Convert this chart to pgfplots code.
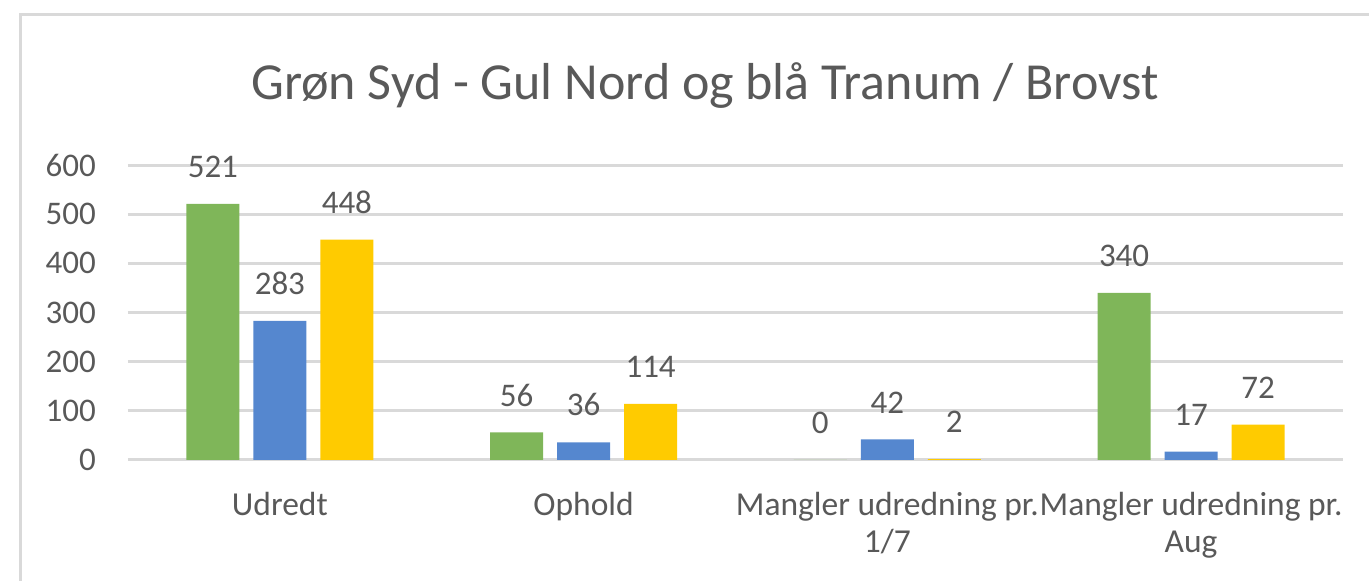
\documentclass[border=0pt]{standalone}
\usepackage{fontspec}
\setmainfont{Carlito}
\usepackage{pgfplots}
\pgfplotsset{compat=1.18}
\definecolor{txt}{HTML}{595959}
\definecolor{gridc}{HTML}{D9D9D9}
\definecolor{cgreen}{RGB}{127,182,89}
\definecolor{cblue}{RGB}{85,135,207}
\definecolor{cyellow}{RGB}{255,203,0}
\begin{document}
\begin{tikzpicture}[x=1pt,y=1pt]
\useasboundingbox (0,0) rectangle (1369,581);
\draw[gridc, line width=3pt] (20,-5) -- (20,566.5) -- (1375,566.5);
\node[anchor=base, text=txt, font=\fontsize{52}{62}\selectfont, inner sep=0pt] at (705,481) {Grøn Syd - Gul Nord og blå Tranum / Brovst};
\begin{axis}[
  at={(128pt,121pt)}, anchor=south west,
  scale only axis, width=1215pt, height=295pt,
  xmin=-0.5, xmax=3.5, ymin=0, ymax=600,
  ybar=14pt, bar width=53pt,
  axis line style={draw=none},
  ymajorgrids, grid style={gridc, line width=3pt},
  ytick={0,100,...,600},
  xtick={0,1,2,3},
  xticklabels={Udredt, Ophold, {Mangler udredning pr.\\1/7}, {Mangler udredning pr.\\Aug}},
  major tick length=0pt,
  /pgf/number format/assume math mode=true,
  tick label style={text=txt, font=\fontsize{33}{38}\selectfont},
  yticklabel style={inner sep=0pt, xshift=-32pt},
  xticklabel style={inner sep=0pt, yshift=-32pt, align=center, anchor=north, font=\fontsize{33.5}{37}\selectfont},
  nodes near coords,
  every node near coord/.append style={text=txt, font=\fontsize{33}{38}\selectfont, inner sep=0pt, yshift=26pt, anchor=south},
  clip=false,
]
\addplot[fill=cgreen, draw=none] coordinates {(0,521) (1,56) (2,0) (3,340)};
\addplot[fill=cblue, draw=none] coordinates {(0,283) (1,36) (2,42) (3,17)};
\addplot[fill=cyellow, draw=none] coordinates {(0,448) (1,114) (2,2) (3,72)};
\end{axis}
\end{tikzpicture}
\end{document}
